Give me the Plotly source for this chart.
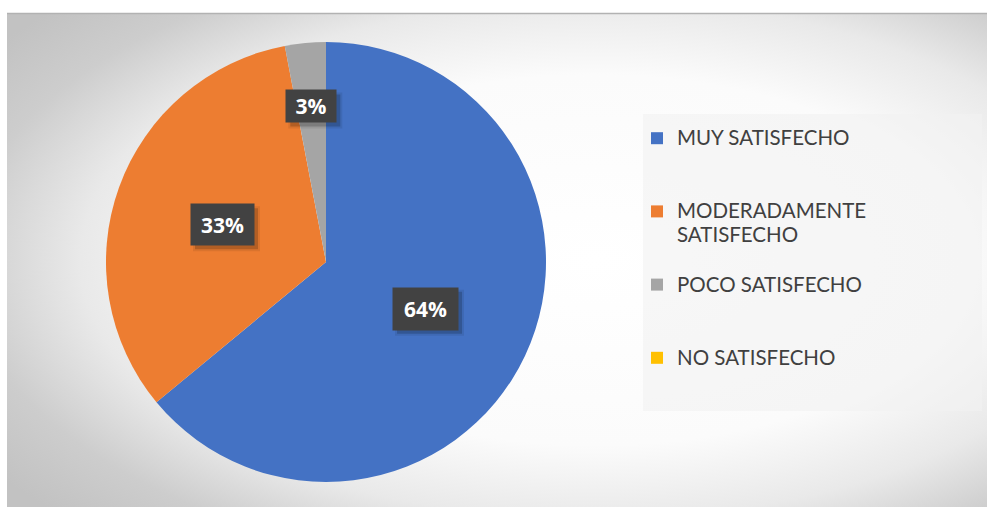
import base64
import math
import plotly.graph_objects as go

# ---- data ----
categories = ["MUY SATISFECHO", "MODERADAMENTE SATISFECHO", "POCO SATISFECHO", "NO SATISFECHO"]
values = [64, 33, 3, 0]
colors = ["#4472C4", "#ED7D31", "#A5A5A5", "#FFC000"]

# ---- style ----
W, H = 987, 507
CX, CY, R = 326, 262, 220    # pie centre / radius in px
label_radius = [0.5, 0.5, 0.71, 0.5]
label_box = [(65, 42), (63, 41), (50, 32), (50, 32)]
LEG_FONT = 18
LEG_TEXT = 20.5


def fx(px):
    return px / W


def fy(py):
    return 1 - py / H


def legend_text(name):
    words = name.split(" ")
    lines = [name] if len(name) <= 16 else [words[0], " ".join(words[1:])]
    body = "<br>".join(f'<span style="font-size:{LEG_TEXT}px">{ln}</span>' for ln in lines)
    return body + "<br> " * (3 - len(lines))


fig = go.Figure(go.Pie(
    labels=[legend_text(c) for c in categories],
    values=values,
    marker=dict(colors=colors, line=dict(width=0)),
    sort=False,
    direction="clockwise",
    rotation=0,
    textinfo="none",
    hoverinfo="label+percent",
    domain=dict(x=[fx(CX - R), fx(CX + R)], y=[fy(CY + R), fy(CY - R)]),
))

# data labels (dark boxes with soft shadow) at each slice's mid-angle
total = sum(values)
cum = 0
for v, rf, (bw, bh) in zip(values, label_radius, label_box):
    if v > 0:
        mid = (cum + v / 2) / total * 2 * math.pi
        px = CX + rf * R * math.sin(mid)
        py = CY - rf * R * math.cos(mid)
        for grow, alpha in [(2, 0.08), (0, 0.18)]:
            fig.add_shape(type="rect", xref="paper", yref="paper", layer="above",
                          x0=fx(px - bw / 2 + 4 - grow), x1=fx(px + bw / 2 + 4 + grow),
                          y0=fy(py + bh / 2 + 4 + grow), y1=fy(py - bh / 2 + 4 - grow),
                          fillcolor=f"rgba(0,0,0,{alpha})", line=dict(width=0))
        fig.add_annotation(
            x=fx(px), y=fy(py), xref="paper", yref="paper",
            xanchor="center", yanchor="middle", showarrow=False,
            text=f"<b>{round(v / total * 100)}%</b>",
            font=dict(family="Open Sans", size=21, color="white"),
            bgcolor="#424242", width=bw, height=bh, borderpad=0,
        )
    cum += v

# background radial gradient (chart area)
svg = '''<svg xmlns="http://www.w3.org/2000/svg" width="980" height="494" viewBox="0 0 980 494">
<defs><radialGradient id="g" cx="0.6" cy="0.5" r="0.75">
<stop offset="0" stop-color="#ffffff"/><stop offset="0.5" stop-color="#fbfbfb"/>
<stop offset="0.7" stop-color="#e9e9e9"/><stop offset="0.86" stop-color="#cdcdcd"/>
<stop offset="1" stop-color="#c2c2c2"/></radialGradient></defs>
<rect width="980" height="494" fill="url(#g)"/></svg>'''
src = "data:image/svg+xml;base64," + base64.b64encode(svg.encode()).decode()
fig.add_layout_image(source=src, xref="paper", yref="paper", x=fx(7), y=fy(13),
                     sizex=980 / W, sizey=494 / H, xanchor="left", yanchor="top",
                     sizing="stretch", layer="below")

# top edge line and legend panel
fig.add_shape(type="line", xref="paper", yref="paper", x0=fx(7), x1=fx(987),
              y0=fy(13.5), y1=fy(13.5), line=dict(color="#b2b2b2", width=1.5), layer="below")
fig.add_shape(type="rect", xref="paper", yref="paper", x0=fx(643), x1=fx(982),
              y0=fy(411), y1=fy(114), fillcolor="rgba(242,242,242,0.6)",
              line=dict(width=0), layer="below")

fig.update_layout(
    width=W, height=H,
    margin=dict(l=0, r=0, t=0, b=0),
    paper_bgcolor="white",
    showlegend=True,
    legend=dict(x=fx(637), y=fy(120), xanchor="left", yanchor="top",
                bgcolor="rgba(0,0,0,0)", valign="top",
                font=dict(family="Lato", size=LEG_FONT, color="#404040")),
)

fig.write_html(
    "out.html",
    config={"displayModeBar": False},
    post_script="document.body.style.margin='0';document.body.style.overflow='hidden';",
)
